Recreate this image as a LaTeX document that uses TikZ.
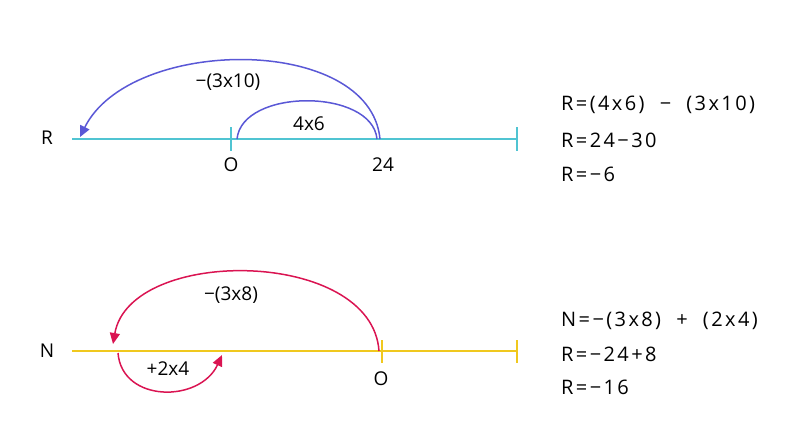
\documentclass[tikz,border=0pt]{standalone}
\usepackage{fontspec}
\setmainfont{Open Sans}
\usetikzlibrary{arrows.meta}
\definecolor{lineR}{RGB}{80,196,210}
\definecolor{arcR}{RGB}{90,88,214}
\definecolor{lineN}{RGB}{240,200,30}
\definecolor{arcN}{RGB}{218,20,82}
\tikzset{
  lbl/.style={inner sep=0pt, font=\fontsize{19}{22}\selectfont},
  eq/.style={inner sep=0pt, anchor=west, font=\fontsize{20}{23}\selectfont\addfontfeature{LetterSpace=12}},
  tip/.style={-{Triangle[length=11pt,width=10pt]}},
}
\begin{document}
\begin{tikzpicture}[x=1pt,y=-1pt]
\useasboundingbox (0,0) rectangle (800,432);
% top
\coordinate (r0) at (72,139);
\coordinate (r1) at (517,139);
\draw[lineR, line width=1.5pt] (r0) -- (r1);
\draw[lineR, line width=1.5pt] (231,127) -- (231,151);
\draw[lineR, line width=1.5pt] (517,127) -- (517,151);
\node[lbl] (R) at (47,138) {R};
\node[lbl] (O1) at (231,165) {O};
\node[lbl] (t24) at (383,165) {24};
\coordinate (a1s) at (237,139);
\coordinate (a1e) at (377,139);
\draw[arcR, line width=1.5pt] (a1s) .. controls (242,88) and (372,88) .. (a1e);
\node[lbl] (l46) at (309,124) {4x6};
\coordinate (a2s) at (380,139);
\coordinate (a2e) at (80,137);
\draw[arcR, line width=1.5pt, tip] (a2s) .. controls (370,34) and (130,36) .. (a2e);
\node[lbl] (l310) at (228,82) {−(3x10)};
% bottom
\coordinate (n0) at (72,351);
\coordinate (n1) at (517,351);
\draw[lineN, line width=1.5pt] (n0) -- (n1);
\draw[lineN, line width=1.5pt] (382,340) -- (382,363);
\draw[lineN, line width=1.5pt] (517,340) -- (517,363);
\node[lbl] (N) at (47,351) {N};
\node[lbl] (O2) at (381,379) {O};
\coordinate (b1s) at (379,351);
\coordinate (b1e) at (113,344);
\draw[arcN, line width=1.5pt, tip] (b1s) .. controls (372,248) and (130,246) .. (b1e);
\node[lbl] (l38) at (231,295) {−(3x8)};
\coordinate (b2s) at (118,353);
\coordinate (b2e) at (222,355);
\draw[arcN, line width=1.5pt, tip] (b2s) .. controls (122,403) and (200,403) .. (b2e);
\node[lbl] (l24) at (168,369) {+2x4};
% equations
\node[eq] (e1) at (561,105) {R=(4x6)\ \ −\ \ (3x10)};
\node[eq] (e2) at (561,140) {R=24−30};
\node[eq] (e3) at (561,174) {R=−6};
\node[eq] (e4) at (561,321) {N=−(3x8)\ \ +\ \ (2x4)};
\node[eq] (e5) at (561,354) {R=−24+8};
\node[eq] (e6) at (561,387) {R=−16};
\end{tikzpicture}
\end{document}
